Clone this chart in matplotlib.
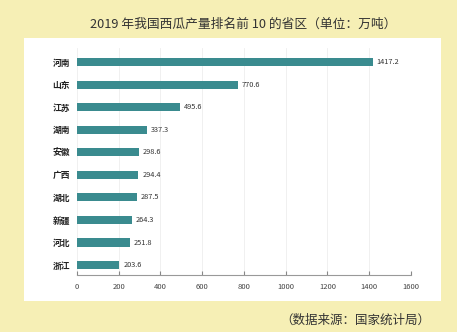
import matplotlib.pyplot as plt
from matplotlib.patches import Rectangle

plt.rcParams['font.family'] = ['Noto Sans CJK SC', 'DejaVu Sans']

provinces = ['河南', '山东', '江苏', '湖南', '安徽', '广西', '湖北', '新疆', '河北', '浙江']
output = [1417.2, 770.6, 495.6, 337.3, 298.6, 294.4, 287.5, 264.3, 251.8, 203.6]
xticks = [0, 200, 400, 600, 800, 1000, 1200, 1400, 1600]

bg = '#F6EFB5'
bar_color = '#3A8B8F'

fig = plt.figure(figsize=(4.57, 3.32), dpi=100)
fig.patch.set_facecolor(bg)

# 白色面板
fig.patches.append(Rectangle((0.0525, 0.0934), 0.9125, 0.7921, transform=fig.transFigure,
                             facecolor='white', edgecolor='none', zorder=-1))

fig.text(0.532, 0.928, '2019 年我国西瓜产量排名前 10 的省区（单位：万吨）',
         ha='center', va='center', fontsize=9.2, color='#333333')
fig.text(0.942, 0.034, '（数据来源：国家统计局）', ha='right', va='center',
         fontsize=9, color='#333333')

ax = fig.add_axes([0.1685, 0.1717, 0.7305, 0.6823])
ax.set_facecolor('none')
y = list(range(len(provinces)))
ax.barh(y, output, height=0.36, color=bar_color, zorder=2)
for yi, v in zip(y, output):
    ax.text(v + 18, yi, f'{v:.1f}', va='center', ha='left', fontsize=5.3, color='#333333')

ax.set_ylim(9.44, -0.6)
ax.set_xlim(0, 1600)
ax.set_yticks(y)
ax.set_yticklabels(provinces, fontsize=6.3, fontweight='bold', color='#222222')
ax.set_xticks(xticks)
ax.set_xticklabels([str(t) for t in xticks], fontsize=5.5, color='#444444')
ax.tick_params(axis='y', length=0, pad=5)
ax.tick_params(axis='x', direction='in', length=3, color='#888888', pad=6)
ax.grid(axis='x', color='#EEEEEE', linewidth=0.6, zorder=0)
for s in ['top', 'right', 'left']:
    ax.spines[s].set_visible(False)
ax.spines['bottom'].set_color('#999999')
ax.spines['bottom'].set_linewidth(0.8)

fig.savefig('out.png', dpi=100, facecolor=bg)
